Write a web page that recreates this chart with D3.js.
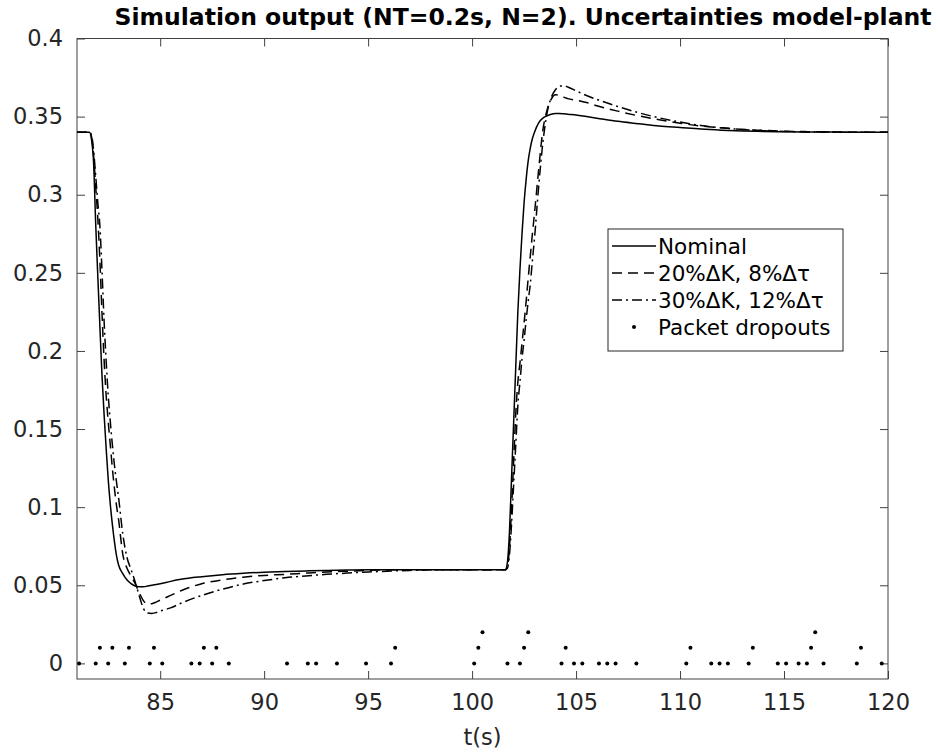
<!DOCTYPE html>
<html><head><meta charset="utf-8">
<script src="https://cdn.jsdelivr.net/npm/d3@7/dist/d3.min.js"></script>
<style>body{margin:0;background:#fff}svg{display:block}text{font-family:"DejaVu Sans",sans-serif}</style>
</head><body><svg id="c" width="940" height="753"></svg>
<script>
const titleText = "Simulation output (NT=0.2s, N=2). Uncertainties model-plant";
const xLabel = "t(s)";
const xTicks = [85, 90, 95, 100, 105, 110, 115, 120];
const xTickLabels = ["85","90","95","100","105","110","115","120"];
const yTicks = [0, 0.05, 0.1, 0.15, 0.2, 0.25, 0.3, 0.35, 0.4];
const yTickLabels = ["0","0.05","0.1","0.15","0.2","0.25","0.3","0.35","0.4"];
const seriesNames = ["Nominal", "20%\u0394K, 8%\u0394\u03c4", "30%\u0394K, 12%\u0394\u03c4", "Packet dropouts"];

const time = [81,81.6,81.7,81.8,81.9,82.0,82.1,82.2,82.3,82.4,82.5,82.6,82.7,82.8,82.9,83.0,83.2,83.4,83.6,83.8,84.0,84.2,84.4,84.6,84.8,85.0,85.5,86,87,88,89,90,91,92,93,94,95,97,99,101,101.6,101.7,101.8,101.9,102.0,102.1,102.2,102.3,102.4,102.5,102.6,102.7,102.8,102.9,103.0,103.2,103.4,103.6,103.8,104.0,104.2,104.4,104.6,105,105.5,106,107,108,109,110,111,112,113,114,115,116,117,118,120];

const nominal = [0.34,0.34,0.335,0.32,0.281,0.248,0.216,0.185,0.160,0.138,0.118,0.102,0.089,0.078,0.069,0.063,0.0575,0.0535,0.051,0.0495,0.049,0.049,0.0495,0.050,0.0505,0.051,0.0525,0.0538,0.0555,0.0568,0.0577,0.0584,0.0588,0.0592,0.0595,0.0597,0.0599,0.06,0.06,0.06,0.06,
 0.065,0.085,0.12,0.155,0.19,0.225,0.252,0.275,0.295,0.31,0.322,0.33,0.336,0.340,0.346,0.349,0.3505,0.3515,0.352,0.352,0.3518,0.3515,0.351,0.350,0.349,0.347,0.3455,0.344,0.343,0.342,0.3413,0.3408,0.3405,0.3403,0.3402,0.3401,0.34,0.34];

const dK20 = [0.34,0.34,0.337,0.325,0.305,0.285,0.258,0.225,0.195,0.172,0.155,0.14,0.125,0.112,0.101,0.092,0.070,0.061,0.056,0.051,0.045,0.040,0.038,0.0382,0.0392,0.0405,0.0435,0.0465,0.051,0.0535,0.0552,0.0563,0.057,0.0578,0.0585,0.059,0.0595,0.06,0.06,0.06,0.06,
 0.062,0.075,0.1,0.13,0.16,0.18,0.192,0.205,0.218,0.232,0.247,0.261,0.275,0.288,0.316,0.341,0.354,0.361,0.364,0.3635,0.3625,0.3615,0.3605,0.359,0.357,0.3535,0.3505,0.348,0.3458,0.344,0.3428,0.3418,0.3412,0.3407,0.3404,0.3402,0.3401,0.34];

const dK30 = [0.34,0.34,0.338,0.328,0.312,0.295,0.28,0.252,0.22,0.194,0.172,0.155,0.14,0.127,0.116,0.106,0.083,0.068,0.06,0.052,0.043,0.035,0.0322,0.032,0.0325,0.0335,0.0355,0.0385,0.0435,0.0475,0.0508,0.053,0.0548,0.056,0.057,0.0578,0.0585,0.0595,0.06,0.06,0.06,
 0.061,0.07,0.09,0.115,0.14,0.165,0.18,0.195,0.207,0.22,0.232,0.243,0.258,0.272,0.305,0.333,0.352,0.362,0.367,0.3695,0.3697,0.369,0.3665,0.3635,0.361,0.3565,0.3525,0.3492,0.3465,0.3443,0.3428,0.3417,0.341,0.3405,0.3402,0.3401,0.34,0.34];

const dropTimes = [81.1,81.9,82.1,82.5,82.7,83.3,83.5,84.5,84.7,85.1,86.5,86.9,87.1,87.5,87.7,88.3,91.1,92.1,92.5,93.5,94.9,96.1,96.3,100.1,100.3,100.5,101.7,102.3,102.5,102.7,104.3,104.5,104.9,105.3,106.1,106.5,106.9,107.9,110.3,110.5,111.5,111.9,112.3,113.3,113.5,114.7,115.1,115.7,116.1,116.3,116.5,116.9,118.5,118.7,119.7];
const dropValues = [0,0,0.01,0,0.01,0,0.01,0,0.01,0,0,0,0.01,0,0.01,0,0,0,0,0,0,0,0.01,0,0.01,0.02,0,0,0.01,0.02,0,0.01,0,0,0,0,0,0,0,0.01,0,0,0,0,0.01,0,0,0,0,0.01,0.02,0,0,0.01,0];

const svg = d3.select("#c");
const L = 77, R = 888, T = 38.5, B = 679;
const x = d3.scaleLinear().domain([81, 120]).range([L, R]);
const y = d3.scaleLinear().domain([-0.01, 0.4]).range([B, T]);
const axisCol = "#404040";

svg.append("defs").append("clipPath").attr("id","clip").append("rect")
  .attr("x", L).attr("y", T).attr("width", R-L).attr("height", B-T);

const styleAxis = (g, labels) => {
  g.select(".domain").remove();
  g.selectAll(".tick line").attr("stroke", axisCol);
  g.selectAll(".tick text").attr("fill", "#262626").style("font-size","22.5px");
  if (!labels) g.selectAll(".tick text").remove();
};
svg.append("g").attr("transform",`translate(0,${B})`)
  .call(d3.axisBottom(x).tickValues(xTicks).tickFormat((d,i)=>xTickLabels[i]).tickSizeInner(-8).tickSizeOuter(0).tickPadding(15))
  .call(g=>styleAxis(g,true));
svg.append("g").attr("transform",`translate(0,${T})`)
  .call(d3.axisTop(x).tickValues(xTicks).tickSizeInner(-8).tickSizeOuter(0))
  .call(g=>styleAxis(g,false));
svg.append("g").attr("transform",`translate(${L},0)`)
  .call(d3.axisLeft(y).tickValues(yTicks).tickFormat((d,i)=>yTickLabels[i]).tickSizeInner(-8).tickSizeOuter(0).tickPadding(14))
  .call(g=>styleAxis(g,true));
svg.append("g").attr("transform",`translate(${R},0)`)
  .call(d3.axisRight(y).tickValues(yTicks).tickSizeInner(-8).tickSizeOuter(0))
  .call(g=>styleAxis(g,false));

svg.append("rect").attr("x",L).attr("y",T).attr("width",R-L).attr("height",B-T)
  .attr("fill","none").attr("stroke",axisCol).attr("stroke-width",1);

const line = d3.line().x((d,i)=>x(time[i])).y(d=>y(d)).curve(d3.curveMonotoneX);
const plot = svg.append("g").attr("clip-path","url(#clip)");
const styles = [null, "10,6", "10,4,2,4"];
[dK30, dK20, nominal].forEach((s) => {
  const idx = s === nominal ? 0 : (s === dK20 ? 1 : 2);
  plot.append("path").datum(s).attr("d", line).attr("fill","none")
    .attr("stroke","#000").attr("stroke-width",1.5)
    .attr("stroke-dasharray", styles[idx]);
});
plot.selectAll("circle.drop").data(dropTimes).enter().append("circle")
  .attr("cx", d=>x(d)).attr("cy",(d,i)=>y(dropValues[i])).attr("r",2).attr("fill","#000");

// title & label
svg.append("text").attr("x",523).attr("y",25).attr("text-anchor","middle")
  .style("font-size","22.5px").style("font-weight","bold").attr("fill","#000")
  .attr("textLength",817).attr("lengthAdjust","spacingAndGlyphs").text(titleText);
svg.append("text").attr("x",(L+R)/2).attr("y",745).attr("text-anchor","middle")
  .style("font-size","22.5px").attr("fill","#262626").text(xLabel);

// legend
const lg = svg.append("g");
lg.append("rect").attr("x",608).attr("y",229).attr("width",235).attr("height",122)
  .attr("fill","#fff").attr("stroke","#262626").attr("stroke-width",1);
const rowY = [246, 273, 300, 327];
seriesNames.forEach((n,i)=>{
  if (i < 3) {
    lg.append("line").attr("x1",612).attr("x2",656).attr("y1",rowY[i]).attr("y2",rowY[i])
      .attr("stroke","#000").attr("stroke-width",1.5).attr("stroke-dasharray",styles[i]);
  } else {
    lg.append("circle").attr("cx",634).attr("cy",rowY[i]).attr("r",2).attr("fill","#000");
  }
  lg.append("text").attr("x",658).attr("y",rowY[i]).attr("dy","0.35em")
    .style("font-size","21.5px").attr("fill","#000").text(n);
});
</script></body></html>
